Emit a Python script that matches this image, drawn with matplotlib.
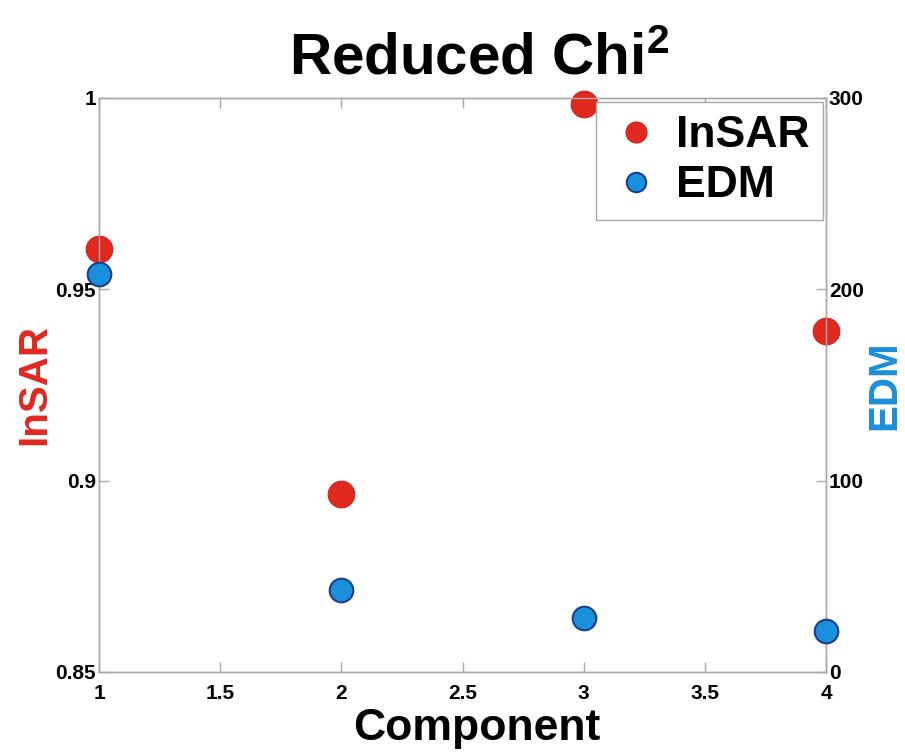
import matplotlib
matplotlib.use("Agg")
import matplotlib.pyplot as plt

plt.rcParams['font.family'] = ['Liberation Sans', 'DejaVu Sans']
plt.rcParams['font.weight'] = 'bold'
plt.rcParams['mathtext.fontset'] = 'custom'
plt.rcParams['mathtext.rm'] = 'Liberation Sans:bold'
plt.rcParams['mathtext.it'] = 'Liberation Sans:bold'
plt.rcParams['mathtext.bf'] = 'Liberation Sans:bold'

components = [1, 2, 3, 4]
insar_chi2 = [0.9605, 0.8965, 0.9984, 0.9391]
edm_chi2 = [208, 43, 28, 21.5]

x_ticks = [1, 1.5, 2, 2.5, 3, 3.5, 4]
x_tick_labels = ["1", "1.5", "2", "2.5", "3", "3.5", "4"]
left_ticks = [0.85, 0.9, 0.95, 1.0]
left_tick_labels = ["0.85", "0.9", "0.95", "1"]
right_ticks = [0, 100, 200, 300]
right_tick_labels = ["0", "100", "200", "300"]

red = "#e0281f"
blue = "#1a8fdc"
blue_edge = "#1b3f8c"
spine_col = "#a8a8a8"

fig = plt.figure(figsize=(9.05, 7.53), dpi=100)
ax = fig.add_axes([0.1094, 0.1076, 0.8033, 0.7623])
ax2 = ax.twinx()

h1, = ax.plot(components, insar_chi2, linestyle='none', marker='o', markersize=19,
              markerfacecolor=red, markeredgecolor="#d32a22", markeredgewidth=1.0,
              label="InSAR", clip_on=False, zorder=3)
h2, = ax2.plot(components, edm_chi2, linestyle='none', marker='o', markersize=17,
               markerfacecolor=blue, markeredgecolor=blue_edge, markeredgewidth=1.5,
               label="EDM", clip_on=False, zorder=3)

ax.set_xlim(1, 4)
ax.set_ylim(0.85, 1.0)
ax2.set_ylim(0, 300)

ax.set_xticks(x_ticks)
ax.set_xticklabels(x_tick_labels)
ax.set_yticks(left_ticks)
ax.set_yticklabels(left_tick_labels)
ax2.set_yticks(right_ticks)
ax2.set_yticklabels(right_tick_labels)

for a in (ax, ax2):
    for s in a.spines.values():
        s.set_color(spine_col)
        s.set_linewidth(1.0)

ax.tick_params(axis='x', direction='in', length=7, width=1, color=spine_col,
               top=True, labelsize=15, pad=9, labelcolor='black')
ax.tick_params(axis='y', direction='in', length=7, width=1, color=spine_col,
               right=False, labelsize=15, pad=2, labelcolor='black')
ax2.tick_params(axis='y', direction='in', length=7, width=1, color=spine_col,
                labelsize=15, pad=2, labelcolor='black')

for lab in ax.get_xticklabels() + ax.get_yticklabels() + ax2.get_yticklabels():
    lab.set_fontweight('bold')

ax.set_xlabel("Component", fontsize=32, fontweight='bold')
ax.xaxis.set_label_coords(0.52, -0.063, transform=ax.transAxes)
ax.xaxis.label.set_va('top')
ax.set_ylabel("InSAR", fontsize=29, fontweight='bold', color=red, labelpad=2)
ax2.set_ylabel("EDM", fontsize=29, fontweight='bold', color=blue, labelpad=1)

fig.text(0.530, 0.901, r"Reduced Chi$^{2}$", fontsize=42, fontweight='bold',
         ha='center', va='baseline')

leg = ax2.legend(handles=[h1, h2], loc='upper right',
                 bbox_to_anchor=(0.9959, 0.993), bbox_transform=ax2.transAxes,
                 frameon=True, fancybox=False, edgecolor=spine_col, framealpha=1.0,
                 borderpad=0.3, handletextpad=0.3, labelspacing=0.2,
                 handlelength=1.2, borderaxespad=0.0,
                 prop={'weight': 'bold', 'size': 32})
leg.get_frame().set_linewidth(1.0)
leg.legend_handles[0].set_markersize(15)
leg.legend_handles[1].set_markersize(14)

fig.savefig("out.png", dpi=100)
